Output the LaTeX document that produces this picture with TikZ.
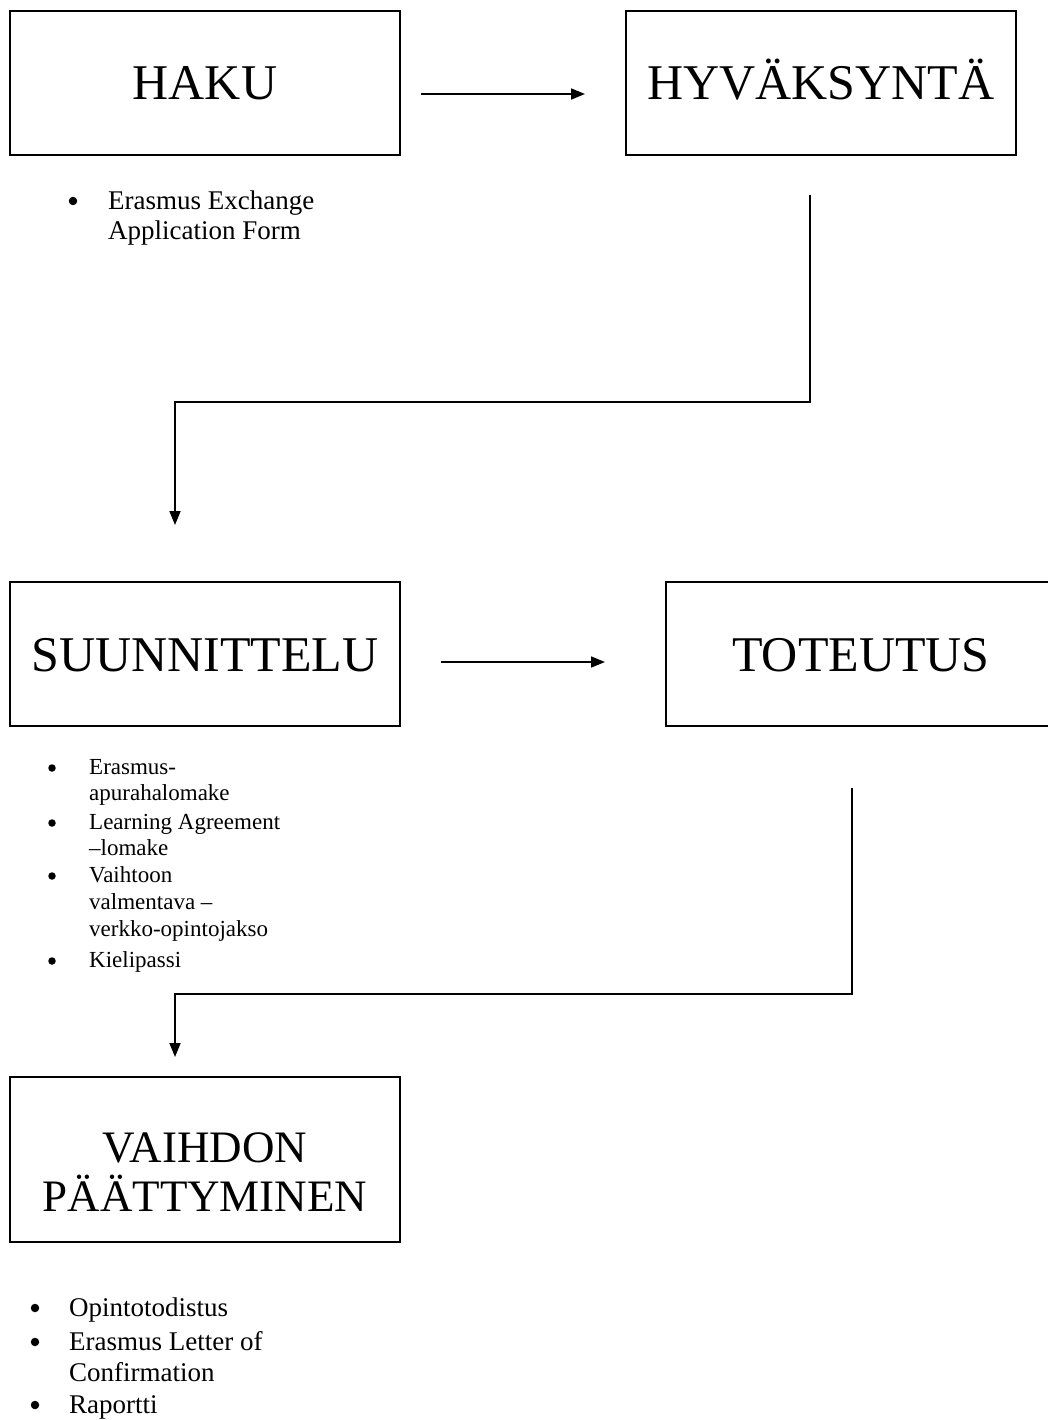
\documentclass[tikz,border=0pt]{standalone}
\usepackage{fontspec}
\setmainfont{Liberation Serif}
\usetikzlibrary{arrows.meta}
\begin{document}
\begin{tikzpicture}[x=1pt,y=-1pt,
  stagebox/.style={draw=black, line width=1.5pt, minimum width=390pt, minimum height=144pt,
    inner sep=0pt, font=\fontsize{50}{55}\selectfont, text height=34pt, text depth=0pt},
  conn/.style={line width=1.7pt, draw=black},
  arr/.style={conn, -{Triangle[length=14pt,width=11pt]}},
  bigitem/.style={anchor=base west, inner sep=0pt, font=\fontsize{27}{30}\selectfont},
  smallitem/.style={anchor=base west, inner sep=0pt, font=\fontsize{23}{26}\selectfont},
  bigdot/.style={circle, fill=black, inner sep=0pt, minimum size=8.5pt},
  smalldot/.style={circle, fill=black, inner sep=0pt, minimum size=7.5pt}
]
\useasboundingbox (0,0) rectangle (1048,1420);
\fill[white] (0,0) rectangle (1048,1420);

% boxes
\node[stagebox] (haku) at (205,83) {HAKU};
\node[stagebox] (hyv) at (821,83) {HYVÄKSYNTÄ};
\node[stagebox] (suun) at (205,654) {SUUNNITTELU};
\node[stagebox] (tot) at (861,654) {TOTEUTUS};
\node[stagebox, minimum height=165pt] (vaih) at (205,1159.5) {};
\node[inner sep=0pt, align=center, font=\fontsize{45}{49}\selectfont] (vaihtext) at (205,1172) {VAIHDON\\PÄÄTTYMINEN};

% connector coordinates
\coordinate (a1s) at (421,94);
\coordinate (a1e) at (585,94);
\coordinate (e1s) at (810,195);
\coordinate (e1e) at (175,525);
\coordinate (a2s) at (441,662);
\coordinate (a2e) at (605,662);
\coordinate (e2s) at (852,788);
\coordinate (e2e) at (175,1057);

\draw[arr] (a1s) -- (a1e);
\draw[arr] (e1s) -- (e1s |- 0,402) -| (e1e);
\draw[arr] (a2s) -- (a2e);
\draw[arr] (e2s) -- (e2s |- 0,994) -| (e2e);

% list 1
\node[bigdot] (b11) at (73,201) {};
\node[bigitem] (t11) at (108,210) {Erasmus Exchange};
\node[bigitem] (t12) at (108,240) {Application Form};

% list 2
\node[smalldot] (b21) at (52,768) {};
\node[smallitem] (t21) at (89,774) {Erasmus-};
\node[smallitem] (t22) at (89,800) {apurahalomake};
\node[smalldot] (b22) at (52,823) {};
\node[smallitem] (t23) at (89,829) {Learning Agreement};
\node[smallitem] (t24) at (89,855) {–lomake};
\node[smalldot] (b23) at (52,876) {};
\node[smallitem] (t25) at (89,882) {Vaihtoon};
\node[smallitem] (t26) at (89,909) {valmentava –};
\node[smallitem] (t27) at (89,936) {verkko-opintojakso};
\node[smalldot] (b24) at (52,961) {};
\node[smallitem] (t28) at (89,967) {Kielipassi};

% list 3
\node[bigdot] (b31) at (35,1308) {};
\node[bigitem] (t31) at (69,1316) {Opintotodistus};
\node[bigdot] (b32) at (35,1342) {};
\node[bigitem] (t32) at (69,1350) {Erasmus Letter of};
\node[bigitem] (t33) at (69,1381) {Confirmation};
\node[bigdot] (b33) at (35,1405) {};
\node[bigitem] (t34) at (69,1413) {Raportti};
\end{tikzpicture}
\end{document}
